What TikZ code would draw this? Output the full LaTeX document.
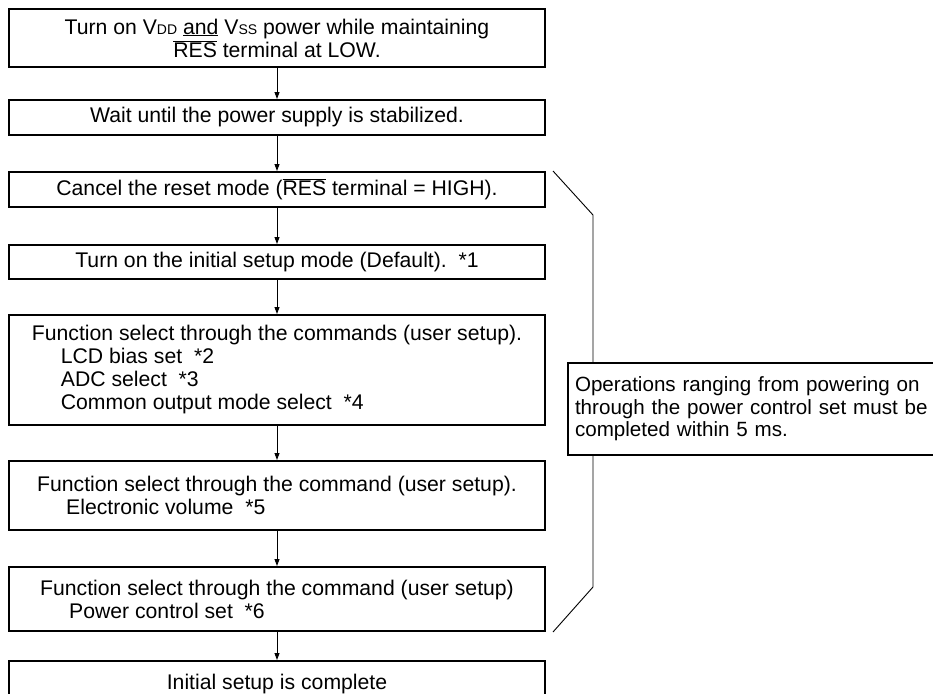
\documentclass[tikz,border=0pt]{standalone}
\usepackage{fontspec}
\setmainfont{Liberation Sans}
\usetikzlibrary{arrows.meta}
\newcommand\resbar{$\overline{\mbox{RES}}$}
\newcommand\smallcap[1]{{\fontsize{14}{14}\selectfont #1}}

\begin{document}
\begin{tikzpicture}[
x=1pt, y=-1pt,
every node/.style  = {font=\fontsize{21.2}{23}\selectfont},
every edge/.style  = {draw, -{Triangle[length=7pt,width=5pt]}, line width=0.9pt, black},
      stepbox/.style = {draw, line width=2pt, minimum width=536pt,
                      minimum height=#1, inner sep=0pt, align=center},
         note/.style = {draw, line width=2pt, fill=white, anchor=west,
                      font=\fontsize{20.6}{22.5}\selectfont,
                      align=left, text width=372pt, minimum height=92pt, inner xsep=7pt}
                    ]
\useasboundingbox (0,0) rectangle (933,693);
\clip (0,0) rectangle (933,693);

\node[stepbox=58pt] (s1) at (277,38)
    {Turn on V\smallcap{DD} \underline{and} V\smallcap{SS} power while maintaining\\
     \resbar{} terminal at LOW.};
\node[stepbox=35pt] (s2) at (277,117.5) {Wait until the power supply is stabilized.};
\node[stepbox=35pt] (s3) at (277,189.5) {Cancel the reset mode (\resbar{} terminal = HIGH).};
\node[stepbox=34pt] (s4) at (277,262) {Turn on the initial setup mode (Default).\ \ *1};
\node[stepbox=110pt, align=left] (s5) at (277,370)
    {Function select through the commands (user setup).\\
     \hspace*{29pt}LCD bias set\ \ *2\\
     \hspace*{29pt}ADC select\ \ *3\\
     \hspace*{29pt}Common output mode select\ \ *4};
\node[stepbox=69pt, align=left] (s6) at (277,495.5)
    {Function select through the command (user setup).\\
     \hspace*{29pt}Electronic volume\ \ *5};
\node[stepbox=64pt, align=left] (s7) at (277,599)
    {Function select through the command (user setup)\\
     \hspace*{29pt}Power control set\ \ *6};
\node[stepbox=46pt] (s8) at (277,684) {Initial setup is complete};

\draw   (s1) edge (s2)
        (s2) edge (s3)
        (s3) edge (s4)
        (s4) edge (s5)
        (s5) edge (s6)
        (s6) edge (s7)
        (s7) edge (s8);

% bracket over steps 3 to 7
\draw[line width=0.9pt] (553,171) -- (593,215) -- (593,587) -- (553,632);

\node[note] (n) at (567,409)
    {Operations ranging from powering on\\
     through the power control set must be\\
     completed within 5 ms.};
\end{tikzpicture}
\end{document}
